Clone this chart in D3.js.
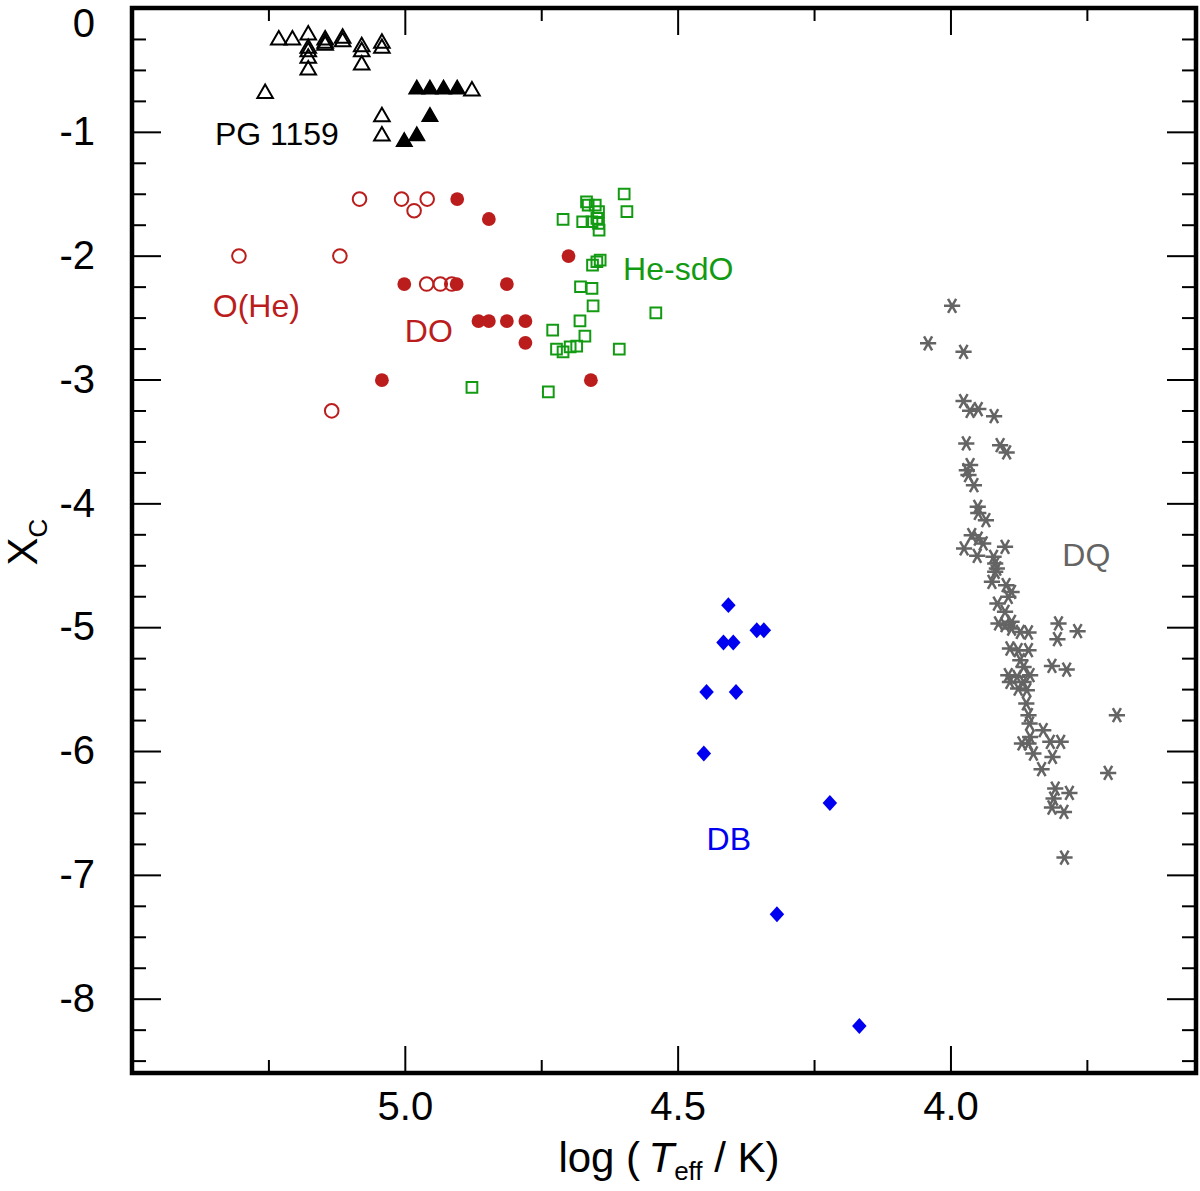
<!DOCTYPE html>
<html>
<head>
<meta charset="utf-8">
<script src="https://cdn.jsdelivr.net/npm/d3@7"></script>
<style>
  body { margin: 0; background: #fff; }
  svg { display: block; font-family: "Liberation Sans", Arial, sans-serif; }
</style>
</head>
<body>
<svg id="grafico"></svg>
<script>
// pontos: [log Teff, X_C]
var pg1159Abertos = [
  [5.231, -0.258], [5.206, -0.258], [5.177, -0.218], [5.177, -0.326], [5.177, -0.353],
  [5.177, -0.406], [5.177, -0.50], [5.146, -0.258], [5.146, -0.285], [5.146, -0.30],
  [5.114, -0.245], [5.114, -0.272], [5.079, -0.313], [5.079, -0.353], [5.079, -0.46],
  [5.042, -0.285], [5.042, -0.326], [5.256, -0.69], [5.042, -0.878], [5.042, -1.034],
  [4.877, -0.67]
]
var pg1159Cheios = [
  [4.978, -0.657], [4.954, -0.657], [4.929, -0.657], [4.904, -0.657],
  [4.954, -0.878], [4.978, -1.034], [5.001, -1.08]
]
var circulosAbertos = [
  [5.083, -1.543], [5.006, -1.543], [4.983, -1.637], [4.959, -1.543], [5.304, -2.003],
  [5.119, -2.003], [4.960, -2.229], [4.935, -2.229], [4.914, -2.229], [5.134, -3.253]
]
var circulosCheios = [
  [4.904, -1.543], [4.846, -1.704], [4.700, -2.003], [5.001, -2.229], [4.905, -2.229],
  [4.813, -2.229], [4.865, -2.528], [4.846, -2.528], [4.813, -2.528], [4.779, -2.528],
  [4.779, -2.704], [5.042, -3.005], [4.659, -3.005]
]
var heSdO = [
  [4.598, -1.502], [4.593, -1.645], [4.667, -1.565], [4.664, -1.591], [4.651, -1.591],
  [4.645, -1.645], [4.648, -1.699], [4.645, -1.739], [4.644, -1.793], [4.710, -1.707],
  [4.674, -1.726], [4.657, -1.726], [4.656, -2.076], [4.648, -2.049], [4.642, -2.036],
  [4.678, -2.251], [4.657, -2.264], [4.655, -2.405], [4.679, -2.526], [4.729, -2.601],
  [4.670, -2.649], [4.722, -2.754], [4.710, -2.776], [4.697, -2.736], [4.685, -2.730],
  [4.607, -2.754], [4.540, -2.461], [4.877, -3.064], [4.737, -3.099]
]
var dbPontos = [
  [4.407, -4.822], [4.355, -5.024], [4.342, -5.024], [4.416, -5.124], [4.398, -5.124],
  [4.447, -5.523], [4.393, -5.523], [4.452, -6.020], [4.221, -6.419], [4.318, -7.318],
  [4.167, -8.221]
]
var dqPontos = [
  [3.997, -2.405], [4.041, -2.708], [3.976, -2.776], [3.976, -3.174], [3.964, -3.253],
  [3.949, -3.239], [3.920, -3.296], [3.971, -3.516], [3.909, -3.530], [3.897, -3.589],
  [3.964, -3.691], [3.970, -3.732], [3.967, -3.772], [3.957, -3.853], [3.950, -4.028],
  [3.949, -4.077], [3.935, -4.136], [3.961, -4.257], [3.949, -4.284], [3.940, -4.324],
  [3.975, -4.364], [3.900, -4.351], [3.951, -4.424], [3.921, -4.432], [3.918, -4.485],
  [3.915, -4.526], [3.918, -4.553], [3.924, -4.634], [3.898, -4.661], [3.888, -4.715],
  [3.894, -4.755], [3.914, -4.809], [3.900, -4.876], [3.912, -4.970], [3.900, -4.984],
  [3.888, -4.957], [3.888, -5.011], [3.872, -5.038], [3.857, -5.043], [3.802, -4.970],
  [3.767, -5.032], [3.804, -5.097], [3.891, -5.172], [3.876, -5.186], [3.857, -5.186],
  [3.872, -5.267], [3.866, -5.321], [3.814, -5.313], [3.787, -5.342], [3.894, -5.388],
  [3.878, -5.401], [3.854, -5.388], [3.866, -5.442], [3.891, -5.442], [3.876, -5.495],
  [3.860, -5.509], [3.861, -5.616], [3.857, -5.711], [3.855, -5.778], [3.830, -5.832],
  [3.854, -5.886], [3.869, -5.939], [3.857, -5.939], [3.817, -5.926], [3.798, -5.926],
  [3.848, -6.020], [3.813, -6.048], [3.833, -6.147], [3.695, -5.711], [3.711, -6.177],
  [3.808, -6.303], [3.782, -6.338], [3.811, -6.384], [3.814, -6.456], [3.792, -6.492],
  [3.791, -6.860]
]

// nomes dos grupos, com o lugar do texto em unidades dos eixos
var rotulos = [
  ["PG 1159", 5.348, -1.107],
  ["O(He)", 5.352, -2.494],
  ["DO", 5.000, -2.695],
  ["He-sdO", 4.600, -2.197],
  ["DQ", 3.795, -4.507],
  ["DB", 4.447, -6.796]
]

var ticksX = [5.0, 4.5, 4.0]
var ticksY = [0, -1, -2, -3, -4, -5, -6, -7, -8]

const width = 1200
const height = 1191
var margem = { esq: 132, dir: 1196, topo: 8, baixo: 1073 }

var preto = "#000000"
var vermelho = "#bb1d1d"
var verde = "#139a13"
var azul = "#0000f0"
var cinza = "#646464"
var coresRotulos = { "PG 1159": preto, "O(He)": vermelho, "DO": vermelho, "He-sdO": verde, "DQ": cinza, "DB": azul }

var svg = d3.select("#grafico")
  .attr("width", width)
  .attr("height", height)

// escalas (log Teff cresce pra esquerda)
var x = d3.scaleLinear().domain([5.5, 3.55]).range([margem.esq, margem.dir])
var y = d3.scaleLinear().domain([-8.6, 0]).range([margem.baixo, margem.topo])

// ticks menores a cada 0.25
var menoresX = d3.range(5.25, 3.5, -0.5)
var menoresY = d3.range(-0.25, -8.6, -0.25).filter(d => Math.abs(d - Math.round(d)) > 0.01)

function limpaEixo(g) {
  g.select(".domain").remove()
  g.selectAll(".tick line").attr("stroke", preto).attr("stroke-width", 2)
  g.selectAll("text").attr("fill", preto).style("font-size", "40px")
    .style("font-family", "'Liberation Sans', Arial, sans-serif")
}

// eixo de baixo
svg.append("g").attr("transform", "translate(0," + margem.baixo + ")")
  .call(d3.axisBottom(x).tickValues(ticksX).tickSize(-27).tickPadding(19).tickFormat(d3.format(".1f")))
  .call(limpaEixo)
svg.append("g").attr("transform", "translate(0," + margem.baixo + ")")
  .call(d3.axisBottom(x).tickValues(menoresX).tickSize(-13).tickFormat(""))
  .call(limpaEixo)
// eixo de cima (so ticks)
svg.append("g").attr("transform", "translate(0," + margem.topo + ")")
  .call(d3.axisTop(x).tickValues(ticksX).tickSize(-27).tickFormat(""))
  .call(limpaEixo)
svg.append("g").attr("transform", "translate(0," + margem.topo + ")")
  .call(d3.axisTop(x).tickValues(menoresX).tickSize(-13).tickFormat(""))
  .call(limpaEixo)

// eixo da esquerda
svg.append("g").attr("transform", "translate(" + margem.esq + ",0)")
  .call(d3.axisLeft(y).tickValues(ticksY).tickSize(-29).tickPadding(37).tickFormat(d => String(d)))
  .call(limpaEixo)
  .call(g => g.selectAll("text").filter(d => d == 0).attr("dy", "0.72em"))
svg.append("g").attr("transform", "translate(" + margem.esq + ",0)")
  .call(d3.axisLeft(y).tickValues(menoresY).tickSize(-14).tickFormat(""))
  .call(limpaEixo)
// eixo da direita
svg.append("g").attr("transform", "translate(" + margem.dir + ",0)")
  .call(d3.axisRight(y).tickValues(ticksY).tickSize(-29).tickFormat(""))
  .call(limpaEixo)
svg.append("g").attr("transform", "translate(" + margem.dir + ",0)")
  .call(d3.axisRight(y).tickValues(menoresY).tickSize(-14).tickFormat(""))
  .call(limpaEixo)

// moldura
svg.append("rect")
  .attr("x", margem.esq).attr("y", margem.topo)
  .attr("width", margem.dir - margem.esq).attr("height", margem.baixo - margem.topo)
  .attr("fill", "none").attr("stroke", preto).attr("stroke-width", 4.5)

// simbolos que o d3 nao tem do jeito certo
var losango = {
  draw: function(ctx, size) {
    var r = Math.sqrt(size) / 2
    ctx.moveTo(0, -r * 1.1)
    ctx.lineTo(r, 0)
    ctx.lineTo(0, r * 1.1)
    ctx.lineTo(-r, 0)
    ctx.closePath()
  }
}

function posicao(d, giro) {
  return "translate(" + x(d[0]) + "," + y(d[1]) + ")" + (giro ? " rotate(" + giro + ")" : "")
}

function fazerPontos(lista, tipo, tamanho, preenche, contorno, larg, giro) {
  svg.append("g")
    .selectAll("path")
    .data(lista)
    .join("path")
    .attr("transform", d => posicao(d, giro))
    .attr("d", d3.symbol(tipo, tamanho))
    .attr("fill", preenche)
    .attr("stroke", contorno)
    .attr("stroke-width", larg)
}

fazerPontos(pg1159Abertos, d3.symbolTriangle, 105, "none", preto, 2)
fazerPontos(pg1159Cheios, d3.symbolTriangle, 105, preto, preto, 1.5)
fazerPontos(heSdO, d3.symbolSquare, 115, "none", verde, 2)
fazerPontos(circulosAbertos, d3.symbolCircle, Math.PI * 6.8 * 6.8, "none", vermelho, 2)
fazerPontos(circulosCheios, d3.symbolCircle, Math.PI * 6.9 * 6.9, vermelho, "none", 0)
fazerPontos(dbPontos, losango, 210, azul, "none", 0)
fazerPontos(dqPontos, d3.symbolAsterisk, 185, "none", cinza, 2.5, 90)

// textos dos grupos
svg.append("g")
  .selectAll("text")
  .data(rotulos)
  .join("text")
  .attr("x", d => x(d[1]))
  .attr("y", d => y(d[2]))
  .attr("fill", d => coresRotulos[d[0]])
  .style("font-size", "32px")
  .text(d => d[0])

// titulo do eixo x
var tituloX = svg.append("text")
  .attr("x", (margem.esq + margem.dir) / 2 + 5)
  .attr("y", 1172)
  .attr("text-anchor", "middle")
  .style("font-size", "42px")
tituloX.append("tspan").text("log (\u2009")
tituloX.append("tspan").style("font-style", "italic").text("T")
tituloX.append("tspan").attr("dy", 8).style("font-size", "26px").text("eff")
tituloX.append("tspan").attr("dy", -8).text(" / K)")

// titulo do eixo y
var tituloY = svg.append("text")
  .attr("transform", "translate(37,542) rotate(-90)")
  .attr("text-anchor", "middle")
  .style("font-size", "42px")
tituloY.append("tspan").text("X")
tituloY.append("tspan").attr("dy", 10).style("font-size", "26px").text("C")
</script>
</body>
</html>
